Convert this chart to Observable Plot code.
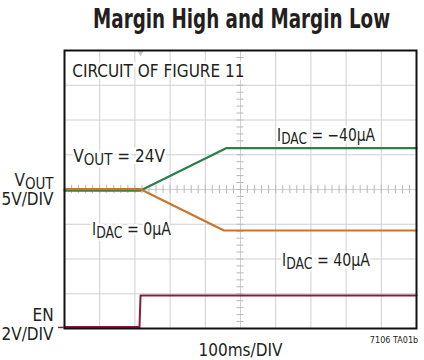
<!DOCTYPE html>
<html><head><meta charset="utf-8">
<script src="https://cdn.jsdelivr.net/npm/d3@7"></script>
<script src="https://cdn.jsdelivr.net/npm/@observablehq/plot@0.6"></script>
<style>
body{margin:0;background:#fff;}
#chart svg{display:block;font-family:"Liberation Sans Narrow","DejaVu Sans Condensed","Arial Narrow",sans-serif;font-stretch:condensed;}
</style></head><body><div id="chart"></div>
<script>
// Scope settings
const VOUT_V_PER_DIV = 5, VOUT_CENTER_V = 24, VOUT_CENTER_DIV = 4;
const EN_V_PER_DIV = 2;
const MS_PER_DIV = 100, H_DIVS = 10, V_DIVS = 8;

// Traces (time in ms, values in volts)
const highTime = [0, 216, 459, 1000];         // IDAC = -40µA
const highVout = [23.85, 23.85, 29.95, 29.95];
const lowTime = [0, 216, 453, 1000];          // IDAC = 40µA
const lowVout = [24.05, 24.05, 18.1, 18.1];
const enTime = [0, 213, 216, 1000];
const enVolts = [0.08, 0.08, 1.9, 1.9];
const triggerTime = [216];

const voutDiv = v => VOUT_CENTER_DIV + (v - VOUT_CENTER_V) / VOUT_V_PER_DIV;
const enDiv = v => v / EN_V_PER_DIV;
const high = highTime.map((t, i) => ({t, d: voutDiv(highVout[i])}));
const low = lowTime.map((t, i) => ({t, d: voutDiv(lowVout[i])}));
const en = enTime.map((t, i) => ({t, d: enDiv(enVolts[i])}));

const gridT = d3.range(MS_PER_DIV, MS_PER_DIV * H_DIVS, MS_PER_DIV);
const gridD = d3.range(1, V_DIVS);
const minorT = d3.range(0, MS_PER_DIV * H_DIVS + 1, MS_PER_DIV / 5);
const minorD = d3.range(0, V_DIVS + 0.01, 0.2);

const ink = "#231f20";
const innerLabels = [
  {text: "CIRCUIT OF FIGURE 11", t: 22, d: 7.25},
  {text: "V_{OUT} = 24V", t: 25, d: 4.79},
  {text: "I_{DAC} = \u221240µA", t: 604, d: 5.39},
  {text: "I_{DAC} = 0µA", t: 78, d: 2.705},
  {text: "I_{DAC} = 40µA", t: 618, d: 1.79}
];
const axisLabels = [
  {text: "V_{OUT}", t: -31, d: 4.09},
  {text: "5V/DIV", t: -31, d: 3.54},
  {text: "EN", t: -31, d: 0.23},
  {text: "2V/DIV", t: -31, d: -0.345}
];
const xLabel = "100ms/DIV";
const title = "Margin High and Margin Low";
const figId = "7106 TA01b";
// rendered widths of the condensed reference lettering (px)
const fitWidths = new Map([
  [title, 297],
  ["I_{DAC} = \u221240µA", 98],
  ["I_{DAC} = 0µA", 79],
  ["I_{DAC} = 40µA", 88]
]);

const chart = Plot.plot({
  width: 424, height: 360,
  marginLeft: 64, marginRight: 8, marginTop: 50, marginBottom: 32,
  x: {domain: [0, MS_PER_DIV * H_DIVS], axis: null},
  y: {domain: [0, V_DIVS], axis: null},
  marks: [
    Plot.ruleX(gridT, {x: d => d, stroke: "#d0d0d0", strokeWidth: 1}),
    Plot.ruleY(gridD, {y: d => d, stroke: "#d0d0d0", strokeWidth: 1}),
    Plot.ruleX(minorT, {x: d => d, y1: 3.88, y2: 4.12, stroke: "#b8b8b8"}),
    Plot.ruleY(minorD, {y: d => d, x1: 490, x2: 510, stroke: "#b8b8b8"}),
    Plot.text(innerLabels, {x: "t", y: "d", text: "text", textAnchor: "start", lineAnchor: "bottom",
      fontSize: 17, fill: ink, stroke: "white", strokeWidth: 5}),
    Plot.text(axisLabels, {x: "t", y: "d", text: "text", textAnchor: "end", lineAnchor: "bottom",
      fontSize: 17, fill: ink}),
    Plot.text([xLabel], {x: 500, y: -0.777, text: d => d, textAnchor: "middle", lineAnchor: "bottom",
      fontSize: 17, fill: ink}),
    Plot.text([title], {x: 503, y: 8.66, text: d => d, textAnchor: "middle",
      lineAnchor: "bottom", fontSize: 27, fontWeight: "bold", fill: ink}),
    Plot.text([figId], {x: 1005, y: -0.42, text: d => d, textAnchor: "end",
      lineAnchor: "bottom", fontSize: 9, fill: ink}),
    Plot.ruleY([enDiv(0)], {y: d => d + 0.03, x1: -17, x2: -1, stroke: "#8b1a3b", strokeWidth: 1.5}),
    Plot.line(en, {x: "t", y: "d", stroke: "#8b1a3b", strokeWidth: 2}),
    Plot.line(high, {x: "t", y: "d", stroke: "#2e7d4b", strokeWidth: 2.2}),
    Plot.line(low, {x: "t", y: "d", stroke: "#c8762f", strokeWidth: 2.2}),
    Plot.dot(triggerTime, {x: d => d, y: V_DIVS, symbol: "triangle", r: 2.5, fill: "#c4c4c4", rotate: 180, dy: 2}),
    Plot.frame({stroke: "#111", strokeWidth: 2})
  ]
});

// fit widths and subscripts: "X_{SUB}"
const ns = "http://www.w3.org/2000/svg";
chart.querySelectorAll("text").forEach(el => {
  const s = el.textContent;
  if (fitWidths.has(s)) {
    el.setAttribute("textLength", String(fitWidths.get(s)));
    el.setAttribute("lengthAdjust", "spacingAndGlyphs");
  }
  if (!s.includes("_{")) return;
  el.textContent = "";
  const parts = s.split(/_\{(.*?)\}/);
  parts.forEach((p, i) => {
    if (!p) return;
    const ts = document.createElementNS(ns, "tspan");
    ts.textContent = p;
    if (i % 2 === 1) { ts.setAttribute("dy", "3"); ts.setAttribute("font-size", "0.88em"); }
    else if (i > 0) { ts.setAttribute("dy", "-3"); }
    el.appendChild(ts);
  });
});
document.getElementById("chart").appendChild(chart);
</script></body></html>
